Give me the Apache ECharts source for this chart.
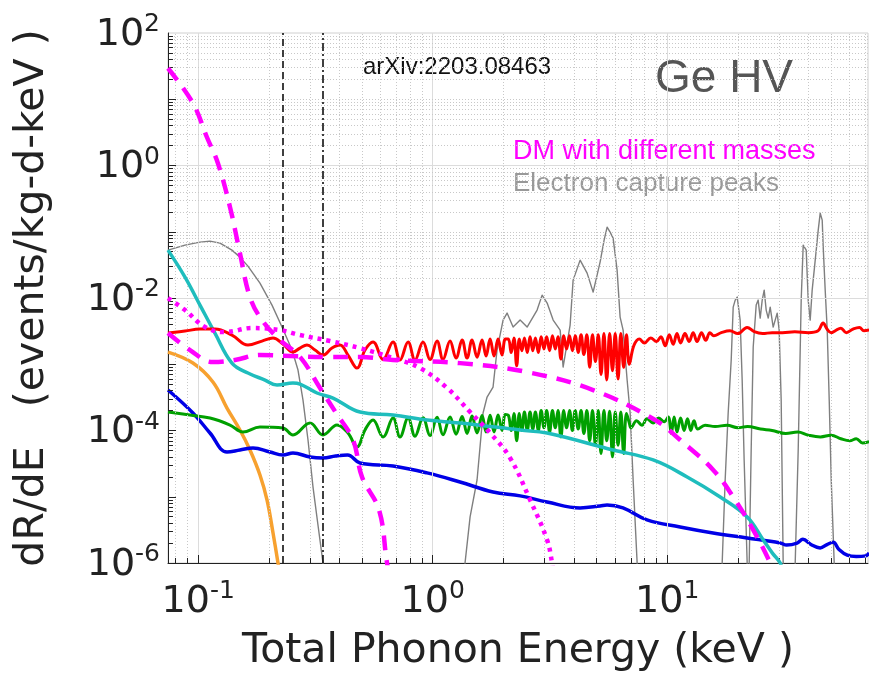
<!DOCTYPE html>
<html>
<head>
<meta charset="utf-8">
<script src="https://cdn.jsdelivr.net/npm/echarts@6/dist/echarts.min.js"></script>
<style>
  html, body { margin: 0; padding: 0; background: #fff; }
  #main { width: 869px; height: 683px; }
</style>
</head>
<body>
<div id="main"></div>
<script>
// axis range (keV, events/kg-d-keV)
const xMin = 0.0743;
const xMax = 71.8;
const yMin = 1e-6;
const yMax = 100;
const thresholds = [0.235, 0.345];

// DM, lightest mass (steep dashed)
const dmAE = [0.0743, 0.0949, 0.1089, 0.1213, 0.1366, 0.1506, 0.1662, 0.187, 0.2232, 0.2716, 0.3306, 0.3869, 0.4571, 0.4993, 0.5902, 0.6384, 0.66];
const dmAR = [29.4, 8.71, 2.67, 1.08, 0.235, 0.0475, 0.0103, 0.00464, 0.00232, 0.00129, 0.000438, 0.000184, 7.2e-5, 1.99e-5, 6.3e-6, 1.0e-6, 6e-7];

// DM, heavier mass (flat dashed)
const dmBE = [0.0743, 0.0922, 0.1155, 0.1434, 0.1833, 0.2461, 0.354, 0.4897, 0.677, 1.307, 2.526, 4.83, 8.88, 11.36, 15.70, 19.11, 23.26, 27.5, 29];
const dmBR = [0.00296, 0.00164, 0.00108, 0.00116, 0.00138, 0.00133, 0.00129, 0.00129, 0.00116, 0.00104, 0.000762, 0.000408, 0.000144, 7.18e-5, 2.54e-5, 9.93e-6, 3.16e-6, 1.0e-6, 6e-7];

// DM, middle mass (dotted)
const dmCE = [0.0743, 0.0878, 0.1068, 0.130, 0.1694, 0.2232, 0.2716, 0.3646, 0.4897, 0.677, 0.8826, 1.151, 1.443, 1.756, 2.137, 2.601, 3.074, 3.228, 3.3];
const dmCR = [0.00997, 0.00657, 0.00364, 0.00306, 0.00352, 0.00328, 0.00276, 0.00224, 0.00175, 0.00124, 0.000877, 0.000438, 0.000190, 9.17e-5, 3.85e-5, 8.95e-6, 2.23e-6, 1.0e-6, 6e-7];

// electron capture peaks (thin grey)
const ecE = [0.0743, 0.0878, 0.1017, 0.1122, 0.1238, 0.1392, 0.1506, 0.1629, 0.1833, 0.2063, 0.2276, 0.2511, 0.2663, 0.2797, 0.2938, 0.3085, 0.324, 0.3404, 0.35,
  1.36, 1.373, 1.443, 1.545, 1.639, 1.705, 1.808, 1.880, 1.995, 2.075, 2.201, 2.358, 2.526, 2.786, 2.927, 3.075, 3.262, 3.494, 3.597, 3.853, 3.968,
  4.251, 4.553, 4.830, 5.172, 5.380, 5.541, 5.706, 5.877, 6.112, 6.295, 6.484, 6.744, 6.947, 7.154, 7.441, 7.6,
  17.0, 17.15, 17.66, 18.19, 18.74, 19.11, 19.49, 19.88, 20.46, 20.87, 21.28, 21.92, 22.1, 22.36, 22.80, 23.26, 23.95, 24.42, 24.91, 25.41, 25.91,
  26.42, 26.95, 27.48, 28.30, 28.86, 29.43, 30.01, 30.61, 31.22, 31.5,
  35.0, 35.13, 36.18, 37.26, 38.00, 39.14, 39.91, 40.70, 41.50, 42.76, 44.04, 44.91, 45.80, 46.25, 47.16, 48.11, 49.06, 50.04, 51.52, 52];
const ecR = [0.0528, 0.0628, 0.0697, 0.0722, 0.0673, 0.0528, 0.0414, 0.0303, 0.0168, 0.00781, 0.00364, 0.001637, 0.000818, 2.88e-4, 7.19e-5, 1.41e-5, 3.75e-6, 1e-6, 1e-8,
  1e-8, 1e-6, 4.96e-6, 1.79e-5, 1.837e-4, 3.20e-4, 4.53e-4, 0.001637, 0.004642, 0.005918, 0.00364, 0.004642, 0.00364, 0.00657, 0.01106, 0.00838, 0.004642, 0.00328, 9.07e-4, 0.003903, 0.01862,
  0.0373, 0.02374, 0.01227, 0.0348, 0.0747, 0.1173, 0.0986, 0.0801, 0.02635, 0.00515, 0.00328, 0.000578, 1.837e-4, 1.79e-5, 1e-6, 1e-8,
  1e-8, 1e-6, 1.79e-5, 1.837e-4, 0.001157, 0.00729, 0.0093, 0.01032, 0.004642, 0.000578, 3.59e-5, 1e-6, 1e-8, 1e-6, 5.08e-5, 0.001817, 0.00781, 0.0093, 0.00497, 0.0093, 0.01316,
  0.00657, 0.00497, 0.00729, 0.00364, 0.004642, 0.005918, 0.00328, 2.88e-4, 1e-6, 1e-8,
  1e-8, 1e-6, 5.08e-5, 0.0093, 0.0628, 0.0528, 0.0093, 0.004642, 0.01316, 0.0373, 0.1057, 0.1908, 0.1496, 0.0586, 0.01316, 0.00328, 2.88e-4, 1.79e-5, 1e-6, 1e-8];

// cyan background
const cyanE = [0.0743, 0.0878, 0.1017, 0.1178, 0.1392, 0.1629, 0.1926, 0.2167, 0.2535, 0.2716, 0.3209, 0.3756, 0.4897, 0.677, 0.9456, 1.307, 2.360, 3.074, 5.877, 8.709, 12.16, 16.82, 21.93, 25.66, 28.03, 30.32, 31];
const cyanR = [0.0528, 0.02066, 0.00781, 0.002955, 0.001043, 0.000737, 0.000578, 0.000485, 0.000521, 0.000503, 0.000368, 0.000309, 1.901e-4, 1.713e-4, 1.44e-4, 1.297e-4, 1.017e-4, 9.17e-5, 5.08e-5, 3.59e-5, 1.99e-5, 9.93e-6, 4.96e-6, 2.23e-6, 1.42e-6, 1.0e-6, 7e-7];

// blue background
const blueE = [0.0743, 0.0949, 0.1122, 0.1326, 0.1506, 0.1712, 0.2022, 0.2298, 0.2535, 0.2998, 0.3404, 0.3849, 0.4330, 0.4897, 0.677, 0.9456, 1.307, 1.808, 2.360, 3.074, 4.25, 5.167, 5.537, 6.476, 8.199, 11.34, 15.68, 21.90, 30.29, 32.3, 35.8, 37.9, 41.0, 44.9, 48, 51, 54, 58.6, 64, 70.2, 72.6];
const blueR = [4.08e-4, 1.837e-4, 9.17e-5, 4.74e-5, 5.08e-5, 5.45e-5, 4.74e-5, 4.27e-5, 4.58e-5, 3.98e-5, 3.85e-5, 4.12e-5, 4.27e-5, 3.23e-5, 2.91e-5, 2.29e-5, 1.67e-5, 1.18e-5, 1.03e-5, 8.35e-6, 6.78e-6, 7.26e-6, 7.52e-6, 6.78e-6, 4.47e-6, 3.50e-6, 2.84e-6, 2.39e-6, 2.01e-6, 1.87e-6, 2.0e-6, 2.28e-6, 1.9e-6, 1.69e-6, 1.9e-6, 2.05e-6, 1.6e-6, 1.31e-6, 1.25e-6, 1.28e-6, 1.42e-6];

// orange background
const orangeE = [0.0743, 0.0949, 0.1155, 0.1326, 0.1506, 0.1662, 0.1833, 0.1964, 0.2084, 0.2188, 0.225];
const orangeR = [0.001528, 0.001043, 5.39e-4, 2.18e-4, 1.017e-4, 5.08e-5, 2.13e-5, 8.95e-6, 2.84e-6, 1.0e-6, 5e-7];

// red and green share the ringing / noise energies
const oscE = [0.614, 0.677, 0.725, 0.785, 0.840, 0.909, 0.974, 1.043, 1.106, 1.185, 1.257, 1.334, 1.401, 1.471, 1.545, 1.623, 1.688, 1.756, 1.826, 1.899, 1.975, 2.040];
const noiseE = [2.10, 2.16, 2.22, 2.28, 2.34, 2.40, 2.46, 2.53, 2.60, 2.67, 2.74, 2.82, 2.90, 2.98, 3.06, 3.15, 3.24, 3.33, 3.42, 3.52, 3.62, 3.72,
  3.83, 3.94, 4.05, 4.17, 4.29, 4.41, 4.54, 4.67, 4.80, 4.94, 5.08, 5.22, 5.37, 5.52, 5.68, 5.84, 6.00, 6.17, 6.34, 6.52, 6.70, 6.89];

// red background
const redHeadE = [0.0743, 0.0878, 0.1017, 0.1178, 0.1392, 0.1629, 0.187, 0.2084, 0.2298, 0.2535, 0.2716, 0.2909, 0.3147, 0.3404, 0.3718, 0.4022, 0.435, 0.4753, 0.5143, 0.5562];
const redHeadR = [0.002955, 0.003168, 0.003396, 0.003396, 0.002757, 0.001948, 0.002238, 0.002484, 0.002017, 0.001528, 0.001755, 0.001948, 0.001637, 0.001376, 0.001755, 0.001948, 0.001376, 0.000876, 0.001637, 0.002162];
const redOscR = [0.00118, 0.00216, 0.00116, 0.00216, 0.00116, 0.00216, 0.00118, 0.00224, 0.00118, 0.00224, 0.00124, 0.00232, 0.00124, 0.00232, 0.00128, 0.00232, 0.00133, 0.0024, 0.00133, 0.0024, 0.00138, 0.0024];
const redNoiseR = [0.0024, 0.0015, 0.0025, 0.00095, 0.0024, 0.0016, 0.0025, 0.0015, 0.0026, 0.0016, 0.0025, 0.0015, 0.0026, 0.0017, 0.0026, 0.0016, 0.0027, 0.0017, 0.0026, 0.0012, 0.0027, 0.0017,
  0.0027, 0.0016, 0.0027, 0.0015, 0.0028, 0.0014, 0.0028, 0.0009, 0.0028, 0.0011, 0.0028, 0.0007, 0.0029, 0.00058, 0.0029, 0.0008, 0.0029, 0.0006, 0.0029, 0.0009, 0.0028, 0.0010];
const redTailE = [7.2, 7.6, 8.0, 8.5, 9.0, 9.4, 9.8, 10.2, 10.6, 11.0, 11.4, 11.9, 12.4, 12.9, 13.4, 14.0, 14.6, 15.2, 15.8, 17, 18.5, 20, 21.9, 23.5, 25.5, 28, 31, 35, 40, 44, 46.2, 48, 50, 52, 55, 58, 62, 66, 69, 72.6];
const redTailR = [0.0019, 0.0024, 0.0021, 0.0025, 0.0022, 0.0026, 0.0019, 0.0028, 0.0020, 0.0029, 0.0021, 0.0029, 0.0022, 0.0030, 0.0022, 0.0030, 0.0023, 0.0030, 0.0027, 0.0030, 0.0032, 0.0029, 0.0036, 0.0031, 0.0029, 0.0030, 0.0030, 0.0031, 0.0030, 0.0032, 0.0042, 0.0034, 0.0030, 0.0032, 0.0035, 0.0030, 0.0034, 0.0036, 0.0032, 0.0033];

// green background
const greenHeadE = [0.0743, 0.0922, 0.1122, 0.1366, 0.1551, 0.1833, 0.2298, 0.2535, 0.2998, 0.3404, 0.3906, 0.435, 0.4753, 0.5143, 0.5562];
const greenHeadR = [1.90e-4, 1.71e-4, 1.54e-4, 1.21e-4, 9.49e-5, 1.13e-4, 1.09e-4, 8.56e-5, 1.30e-4, 8.56e-5, 1.21e-4, 9.17e-5, 5.64e-5, 1.02e-4, 1.44e-4];
const greenOscR = [8.0e-5, 1.54e-4, 8.0e-5, 1.54e-4, 8.2e-5, 1.56e-4, 8.4e-5, 1.58e-4, 8.6e-5, 1.6e-4, 8.8e-5, 1.62e-4, 9.0e-5, 1.65e-4, 9.2e-5, 1.68e-4, 9.5e-5, 1.7e-4, 9.5e-5, 1.72e-4, 1.0e-4, 1.75e-4];
const greenNoiseR = [1.7e-4, 1.0e-4, 1.8e-4, 7.0e-5, 1.8e-4, 1.0e-4, 1.9e-4, 1.0e-4, 1.9e-4, 1.05e-4, 1.9e-4, 1.0e-4, 2.0e-4, 1.1e-4, 2.0e-4, 9.5e-5, 2.0e-4, 1.1e-4, 2.0e-4, 8.0e-5, 2.0e-4, 1.1e-4,
  2.0e-4, 1.0e-4, 2.0e-4, 1.05e-4, 2.0e-4, 9.0e-5, 2.0e-4, 7.0e-5, 2.0e-4, 6.0e-5, 2.0e-4, 4.5e-5, 2.0e-4, 7.0e-5, 1.95e-4, 4.0e-5, 1.9e-4, 6.0e-5, 1.9e-4, 4.5e-5, 1.8e-4, 1.3e-4];
const greenTailE = [7.0, 7.4, 7.8, 8.2, 8.7, 9.2, 9.7, 10.1, 10.4, 10.7, 11.0, 11.4, 11.8, 12.2, 12.6, 13.0, 13.5, 14.5, 16, 18, 20, 22, 25, 28, 32, 36, 40, 45, 50, 55, 60, 64, 68, 72.6];
const greenTailR = [1.1e-4, 1.4e-4, 1.2e-4, 1.5e-4, 1.3e-4, 1.55e-4, 1.35e-4, 1.6e-4, 9e-5, 1.6e-4, 9.5e-5, 1.55e-4, 1.0e-4, 1.5e-4, 1.0e-4, 1.4e-4, 1.05e-4, 1.2e-4, 1.15e-4, 1.2e-4, 1.1e-4, 1.15e-4, 1.05e-4, 1.0e-4, 9.0e-5, 9.5e-5, 8.5e-5, 8.0e-5, 8.5e-5, 7.5e-5, 7.0e-5, 7.5e-5, 6.5e-5, 6.8e-5];

const zip = (e, r) => e.map((v, i) => [v, r[i]]);

const redData = zip(redHeadE, redHeadR).concat(zip(oscE, redOscR), zip(noiseE, redNoiseR), zip(redTailE, redTailR));
const greenData = zip(greenHeadE, greenHeadR).concat(zip(oscE, greenOscR), zip(noiseE, greenNoiseR), zip(greenTailE, greenTailR));

// grid lines: solid at labelled decades, dotted elsewhere
const SOLID = { color: '#dcdcdc', width: 1, type: 'solid' };
const DOT = { color: '#c8c8c8', width: 1, type: [1, 2] };
const gridLines = [];
const tickMarks = [];
const TICK = { color: '#222', width: 1, type: 'solid' };
for (let d = -2; d <= 1; d++) {
  for (let k = 1; k <= 9; k++) {
    const v = k * Math.pow(10, d);
    if (v <= xMin || v >= xMax) continue;
    gridLines.push({ xAxis: v, lineStyle: k === 1 ? SOLID : DOT });
    const len = k === 1 ? 1.32 : 1.19;
    tickMarks.push([{ coord: [v, yMin], lineStyle: TICK }, { coord: [v, yMin * len] }]);
  }
}
for (let d = -6; d <= 1; d++) {
  for (let k = 1; k <= 9; k++) {
    const v = k * Math.pow(10, d);
    if (v <= yMin) continue;
    const major = k === 1 && d % 2 === 0;
    gridLines.push({ yAxis: v, lineStyle: major ? SOLID : DOT });
    const len = k === 1 ? 1.082 : 1.05;
    tickMarks.push([{ coord: [xMin, v], lineStyle: TICK }, { coord: [xMin * len, v] }]);
  }
}

const supLabel = (v) => {
  const p = Math.round(Math.log10(v));
  return `{b|10}{s|${p}}`;
};
const labelRich = {
  b: { fontFamily: 'DejaVu Sans', fontSize: 38, color: '#222', verticalAlign: 'bottom', lineHeight: 42 },
  s: { fontFamily: 'DejaVu Sans', fontSize: 25, color: '#222', verticalAlign: 'top', lineHeight: 25 },
};

const curve = (data, color, width, type, z, smooth) => ({
  type       : 'line',
  data       : data,
  showSymbol : false,
  symbol     : 'none',
  silent     : true,
  animation  : false,
  smooth     : smooth || false,
  z          : z,
  lineStyle  : { color: color, width: width, type: type, cap: 'butt', join: 'round' },
});

const chart = echarts.init(document.getElementById('main'), null, { renderer: 'canvas' });
chart.setOption({
  backgroundColor : '#fff',
  animation       : false,
  grid            : {
    left: 168, top: 33, right: 1, bottom: 120,
    show: true, borderColor: '#d0d0d0', borderWidth: 1,
  },
  xAxis: {
    type         : 'log',
    logBase      : 10,
    min          : xMin,
    max          : xMax,
    name         : 'Total Phonon Energy (keV )',
    nameLocation : 'middle',
    nameGap      : 68,
    nameTextStyle: { fontFamily: 'DejaVu Sans', fontSize: 41, color: '#222' },
    axisLine     : { onZero: false, lineStyle: { color: '#222', width: 1 } },
    axisTick     : { show: false },
    splitLine    : { show: false },
    axisLabel    : {
      formatter    : supLabel,
      rich         : labelRich,
      margin       : 16,
      showMinLabel : false,
      showMaxLabel : false,
    },
  },
  yAxis: {
    type         : 'log',
    logBase      : 10,
    min          : yMin,
    max          : yMax,
    name         : 'dR/dE   (events/kg-d-keV )',
    nameLocation : 'middle',
    nameGap      : 115,
    nameTextStyle: { fontFamily: 'DejaVu Sans', fontSize: 41, color: '#222' },
    axisLine     : { onZero: false, lineStyle: { color: '#222', width: 1 } },
    axisTick     : { show: false },
    splitLine    : { show: false },
    axisLabel    : {
      formatter : (v) => (Math.round(Math.log10(v)) % 2 === 0 ? supLabel(v) : ''),
      rich      : labelRich,
      margin    : 8,
    },
  },
  graphic: [
    { type: 'text', left: 363, top: 55, silent: true,
      style: { text: 'arXiv:2203.08463', fontFamily: 'Liberation Sans', fontSize: 24, fill: '#111' } },
    { type: 'text', left: 655, top: 56, silent: true,
      style: { text: 'Ge HV', fontFamily: 'Liberation Sans', fontSize: 46, fill: '#555' } },
    { type: 'text', left: 513, top: 138, silent: true,
      style: { text: 'DM with different masses', fontFamily: 'Liberation Sans', fontSize: 27, fill: '#ff00ff' } },
    { type: 'text', left: 513, top: 171, silent: true,
      style: { text: 'Electron capture peaks', fontFamily: 'Liberation Sans', fontSize: 26, fill: '#999' } },
  ],
  series: [
    {
      type      : 'line',
      data      : [],
      silent    : true,
      z         : 1,
      markLine  : {
        silent: true, animation: false, symbol: ['none', 'none'],
        label: { show: false }, emphasis: { disabled: true },
        data: gridLines.concat(tickMarks),
      },
    },
    curve(zip(ecE, ecR), '#7f7f7f', 1.4, 'solid', 3),
    curve(zip(orangeE, orangeR), '#f7a12f', 3.5, 'solid', 4, 0.4),
    curve(zip(blueE, blueR), '#0000e6', 3.5, 'solid', 4, 0.4),
    curve(greenData, '#00a000', 3, 'solid', 4, 0.4),
    curve(zip(cyanE, cyanR), '#1fbdbd', 3.5, 'solid', 5, 0.4),
    curve(redData, '#ff0000', 3, 'solid', 5, 0.4),
    curve(zip(dmAE, dmAR), '#ff00ff', 4.5, [15, 10], 6, 0.4),
    curve(zip(dmBE, dmBR), '#ff00ff', 4.5, [15, 10], 6, 0.4),
    curve(zip(dmCE, dmCR), '#ff00ff', 4.5, [4, 5], 6, 0.4),
    {
      type      : 'line',
      data      : [],
      silent    : true,
      z         : 7,
      markLine  : {
        silent: true, animation: false, symbol: ['none', 'none'],
        label: { show: false }, emphasis: { disabled: true },
        data: [
          { xAxis: thresholds[0], lineStyle: { color: '#000', width: 1.5, type: [7, 4] } },
          { xAxis: thresholds[1], lineStyle: { color: '#000', width: 1.5, type: [8, 3, 2, 3] } },
        ],
      },
    },
  ],
});
</script>
</body>
</html>
